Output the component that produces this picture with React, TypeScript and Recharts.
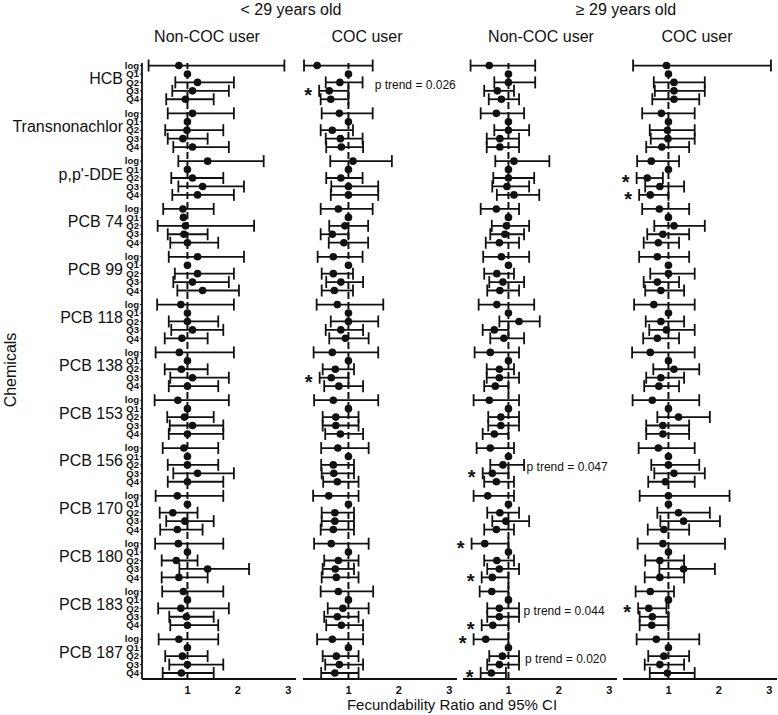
import React from "react";
import {
  ScatterChart,
  Scatter,
  XAxis,
  YAxis,
  ErrorBar,
  ReferenceLine,
} from "recharts";

// chemicals and the 5 rows shown for each one
const chemicals = [
  "HCB",
  "Transnonachlor",
  "p,p'-DDE",
  "PCB 74",
  "PCB 99",
  "PCB 118",
  "PCB 138",
  "PCB 153",
  "PCB 156",
  "PCB 170",
  "PCB 180",
  "PCB 183",
  "PCB 187",
];
const rowLabels = ["log", "Q1", "Q2", "Q3", "Q4"];
const xTicks = [1, 2, 3];

type Triple = [number, number, number]; // [FR, lower, upper]

// < 29 years old, non-COC user
const youngNonCoc: Triple[] = [
  [0.83, 0.23, 2.92], [1, 1, 1], [1.2, 0.76, 1.92], [1.1, 0.7, 1.82], [0.96, 0.58, 1.52],
  [1.1, 0.61, 1.92], [1, 1, 1], [0.99, 0.56, 1.71], [0.91, 0.61, 1.4], [1.1, 0.72, 1.82],
  [1.4, 0.82, 2.51], [1, 1, 1], [1.1, 0.68, 1.71], [1.3, 0.82, 2.12], [1.2, 0.7, 1.92],
  [0.91, 0.52, 1.52], [0.92, 0.92, 0.92], [0.96, 0.41, 2.32], [0.93, 0.61, 1.4], [1.0, 0.66, 1.61],
  [1.2, 0.63, 2.12], [1, 1, 1], [1.2, 0.75, 1.92], [1.1, 0.72, 1.82], [1.3, 0.8, 2.02],
  [0.87, 0.4, 1.92], [1, 1, 1], [1.0, 0.63, 1.61], [1.1, 0.68, 1.71], [0.89, 0.55, 1.4],
  [0.84, 0.37, 1.92], [1, 1, 1], [0.88, 0.55, 1.4], [1.1, 0.66, 1.82], [1.0, 0.63, 1.61],
  [0.81, 0.35, 1.82], [1, 1, 1], [0.94, 0.6, 1.52], [1.1, 0.65, 1.71], [1.0, 0.63, 1.71],
  [0.93, 0.51, 1.61], [1, 1, 1], [1.0, 0.61, 1.61], [1.2, 0.72, 1.92], [1.0, 0.61, 1.71],
  [0.8, 0.37, 1.71], [1, 1, 1], [0.71, 0.45, 1.2], [0.95, 0.58, 1.52], [0.8, 0.46, 1.3],
  [0.82, 0.36, 1.71], [1, 1, 1], [0.78, 0.49, 1.2], [1.4, 0.84, 2.22], [0.83, 0.49, 1.4],
  [0.92, 0.5, 1.71], [1, 1, 1], [0.87, 0.42, 1.82], [0.98, 0.64, 1.52], [1.0, 0.66, 1.61],
  [0.83, 0.43, 1.61], [1, 1, 1], [0.9, 0.56, 1.4], [1.0, 0.64, 1.71], [0.88, 0.51, 1.52],
];

// < 29 years old, COC user
const youngCoc: Triple[] = [
  [0.38, 0.12, 1.48], [1, 1, 1], [0.83, 0.55, 1.28], [0.62, 0.42, 1.0], [0.65, 0.45, 1.0],
  [0.82, 0.47, 1.48], [1, 1, 1], [0.68, 0.45, 1.09], [0.84, 0.55, 1.28], [0.86, 0.56, 1.29],
  [1.09, 0.64, 1.86], [1, 1, 1], [0.85, 0.56, 1.28], [1.0, 0.66, 1.59], [1.0, 0.65, 1.59],
  [0.8, 0.45, 1.48], [1, 1, 1], [0.93, 0.62, 1.39], [0.68, 0.45, 1.0], [0.91, 0.61, 1.39],
  [0.7, 0.39, 1.28], [1, 1, 1], [0.7, 0.47, 1.09], [0.85, 0.56, 1.29], [0.72, 0.47, 1.09],
  [0.78, 0.37, 1.69], [1, 1, 1], [1.0, 0.65, 1.59], [0.85, 0.55, 1.29], [0.94, 0.62, 1.4],
  [0.68, 0.31, 1.59], [1, 1, 1], [0.74, 0.49, 1.11], [0.66, 0.43, 1.0], [0.81, 0.52, 1.29],
  [0.7, 0.32, 1.59], [1, 1, 1], [0.75, 0.49, 1.2], [0.75, 0.49, 1.2], [0.84, 0.54, 1.29],
  [0.79, 0.46, 1.4], [1, 1, 1], [0.7, 0.46, 1.11], [0.71, 0.47, 1.11], [0.78, 0.5, 1.2],
  [0.61, 0.3, 1.2], [1, 1, 1], [0.73, 0.47, 1.11], [0.73, 0.47, 1.11], [0.7, 0.45, 1.11],
  [0.66, 0.32, 1.4], [1, 1, 1], [0.8, 0.52, 1.2], [0.74, 0.49, 1.11], [0.76, 0.47, 1.2],
  [0.8, 0.45, 1.49], [1, 1, 1], [0.89, 0.59, 1.4], [0.78, 0.52, 1.2], [0.86, 0.56, 1.29],
  [0.68, 0.38, 1.29], [1, 1, 1], [0.76, 0.49, 1.2], [0.82, 0.54, 1.29], [0.73, 0.46, 1.2],
];

// >= 29 years old, non-COC user
const oldNonCoc: Triple[] = [
  [0.62, 0.25, 1.53], [1, 1, 1], [1.0, 0.72, 1.53], [0.78, 0.52, 1.11], [0.86, 0.61, 1.21],
  [0.76, 0.45, 1.31], [1, 1, 1], [1.0, 0.72, 1.41], [0.83, 0.57, 1.21], [0.83, 0.57, 1.21],
  [1.11, 0.74, 1.81], [1, 1, 1], [1.0, 0.7, 1.51], [0.97, 0.68, 1.41], [1.11, 0.77, 1.61],
  [0.76, 0.45, 1.21], [1, 1, 1], [0.96, 0.67, 1.41], [0.93, 0.64, 1.31], [0.82, 0.55, 1.21],
  [0.86, 0.5, 1.41], [1, 1, 1], [0.77, 0.52, 1.11], [0.89, 0.62, 1.31], [0.83, 0.58, 1.21],
  [0.77, 0.41, 1.51], [1, 1, 1], [1.21, 0.82, 1.62], [0.72, 0.49, 1.0], [0.91, 0.64, 1.31],
  [0.64, 0.33, 1.21], [1, 1, 1], [0.82, 0.57, 1.11], [0.82, 0.57, 1.21], [0.74, 0.52, 1.0],
  [0.62, 0.31, 1.21], [1, 1, 1], [0.85, 0.6, 1.21], [0.85, 0.6, 1.21], [0.72, 0.49, 1.0],
  [0.64, 0.37, 1.11], [1, 1, 1], [0.89, 0.64, 1.31], [0.68, 0.49, 1.0], [0.76, 0.52, 1.11],
  [0.59, 0.31, 1.11], [1, 1, 1], [0.83, 0.58, 1.21], [0.95, 0.68, 1.41], [0.76, 0.52, 1.11],
  [0.53, 0.27, 1.0], [1, 1, 1], [0.77, 0.52, 1.11], [0.82, 0.58, 1.21], [0.68, 0.47, 1.0],
  [0.67, 0.43, 1.0], [1, 1, 1], [0.82, 0.58, 1.21], [0.82, 0.58, 1.21], [0.69, 0.47, 1.0],
  [0.55, 0.31, 1.0], [1, 1, 1], [0.88, 0.62, 1.21], [0.82, 0.58, 1.21], [0.66, 0.45, 0.95],
];

// >= 29 years old, COC user
const oldCoc: Triple[] = [
  [0.96, 0.3, 3.03], [1, 1, 1], [1.11, 0.71, 1.72], [1.11, 0.73, 1.72], [1.11, 0.68, 1.61],
  [0.86, 0.48, 1.52], [1, 1, 1], [0.98, 0.63, 1.52], [0.99, 0.65, 1.52], [0.87, 0.56, 1.41],
  [0.66, 0.38, 1.21], [1, 1, 1], [0.58, 0.37, 0.89], [0.83, 0.54, 1.31], [0.64, 0.42, 1.0],
  [0.82, 0.48, 1.41], [1, 1, 1], [1.11, 0.72, 1.72], [0.89, 0.58, 1.41], [0.8, 0.51, 1.21],
  [0.78, 0.42, 1.41], [1, 1, 1], [1.0, 0.64, 1.52], [0.78, 0.51, 1.21], [0.85, 0.54, 1.31],
  [0.71, 0.32, 1.52], [1, 1, 1], [0.85, 0.55, 1.31], [0.96, 0.62, 1.52], [0.78, 0.5, 1.21],
  [0.64, 0.28, 1.52], [1, 1, 1], [1.11, 0.7, 1.61], [0.85, 0.56, 1.31], [0.81, 0.52, 1.21],
  [0.68, 0.29, 1.61], [1, 1, 1], [1.2, 0.78, 1.82], [0.89, 0.56, 1.41], [0.89, 0.56, 1.41],
  [0.8, 0.41, 1.52], [1, 1, 1], [1.0, 0.66, 1.61], [1.11, 0.72, 1.72], [0.94, 0.6, 1.52],
  [1.0, 0.43, 2.21], [1, 1, 1], [1.2, 0.78, 1.82], [1.3, 0.84, 2.02], [0.91, 0.59, 1.41],
  [0.89, 0.39, 2.12], [1, 1, 1], [0.83, 0.54, 1.31], [1.3, 0.82, 1.92], [0.83, 0.53, 1.31],
  [0.64, 0.35, 1.11], [1, 1, 1], [0.61, 0.4, 0.96], [0.68, 0.43, 1.0], [0.67, 0.43, 1.0],
  [0.76, 0.37, 1.61], [1, 1, 1], [0.91, 0.6, 1.41], [0.83, 0.53, 1.31], [0.98, 0.63, 1.52],
];

// significant rows, [chemical index, row index]
const youngNonCocStars: [number, number][] = [];
const youngCocStars: [number, number][] = [[0, 3], [6, 3]];
const oldNonCocStars: [number, number][] = [[8, 3], [10, 0], [10, 4], [11, 4], [12, 0], [12, 4]];
const oldCocStars: [number, number][] = [[2, 2], [2, 4], [11, 2]];

// p trend notes: [chemical index, x where the text starts, text]
const youngCocTrends: [number, number, string][] = [[0, 1.52, "p trend = 0.026"]];
const oldNonCocTrends: [number, number, string][] = [
  [8, 1.36, "p trend = 0.047"],
  [11, 1.3, "p trend = 0.044"],
  [12, 1.33, "p trend = 0.020"],
];

const GROUP_STEP = 5.67;
const yPos = (g: number, r: number) => g * GROUP_STEP + r;
const yTicks = chemicals.flatMap((_, g) => rowLabels.map((_, r) => yPos(g, r)));
const tickInfo = new Map<number, { row: string; chem?: string }>();
chemicals.forEach((c, g) =>
  rowLabels.forEach((l, r) =>
    tickInfo.set(Math.round(yPos(g, r) * 100), { row: l, chem: r === 1 ? c : undefined })
  )
);

const FONT = "'Liberation Sans', Arial, sans-serif";
const INK = "#111";

const toPoints = (rows: Triple[]) =>
  rows.map(([fr, lo, hi], i) => ({
    x: fr,
    y: yPos(Math.floor(i / 5), i % 5),
    err: hi > lo ? [fr - lo, hi - fr] : null,
  }));

const starPoints = (stars: [number, number][], rows: Triple[]) =>
  stars.map(([g, r]) => ({ x: rows[g * 5 + r][1], y: yPos(g, r) }));

const trendPoints = (trends: [number, number, string][]) =>
  trends.map(([g, x, label]) => ({ x, y: yPos(g, 2), label }));

const Dot = (p: any) => <circle cx={p.cx} cy={p.cy} r={3.8} fill={INK} />;

const Star = (p: any) => (
  <text x={p.cx - 11} y={p.cy + 11} textAnchor="middle" fontSize={20} fontWeight="bold" fontFamily={FONT} fill={INK}>
    *
  </text>
);

const Trend = (p: any) => (
  <text x={p.cx} y={p.cy + 6.5} fontSize={12} fontFamily={FONT} fill={INK}>
    {p.payload.label}
  </text>
);

const RowTick = (p: any) => {
  const info = tickInfo.get(Math.round(p.payload.value * 100));
  if (!info) return null;
  return (
    <g>
      <text
        x={p.x}
        y={p.y + 3.2}
        textAnchor="end"
        fontSize={9.5}
        fontWeight="bold"
        fontFamily="'Liberation Sans Narrow', 'Liberation Sans', Arial, sans-serif"
        fill={INK}
      >
        {info.row}
      </text>
      {info.chem && (
        <text x={123} y={p.y + 10} textAnchor="end" fontSize={16} fontFamily={FONT} fill={INK}>
          {info.chem}
        </text>
      )}
    </g>
  );
};

type PanelProps = {
  rows: Triple[];
  stars: [number, number][];
  trends: [number, number, string][];
  left: number;
  width: number;
  showY?: boolean;
  marginLeft: number;
  marginRight: number;
};

const Panel = ({ rows, stars, trends, left, width, showY, marginLeft, marginRight }: PanelProps) => (
  <div style={{ position: "absolute", left, top: 0 }}>
    <ScatterChart
      width={width}
      height={715}
      margin={{ top: 63, right: marginRight, bottom: 6, left: marginLeft }}
    >
      <XAxis
        type="number"
        dataKey="x"
        domain={[0.1, 3.15]}
        ticks={xTicks}
        interval={0}
        height={30}
        tickLine={false}
        tickSize={4}
        tickMargin={3}
        axisLine={{ stroke: INK, strokeWidth: 1.8 }}
        tick={{ fontSize: 11, fontWeight: "bold", fill: INK, fontFamily: FONT }}
      />
      <YAxis
        type="number"
        dataKey="y"
        domain={[-0.3, 72.75]}
        reversed
        hide={!showY}
        width={142}
        ticks={yTicks}
        interval={0}
        tickSize={2}
        tickMargin={1}
        tickLine={{ stroke: INK }}
        axisLine={{ stroke: INK, strokeWidth: 1.8 }}
        tick={(p: any) => <RowTick {...p} />}
      />
      <ReferenceLine x={1} stroke={INK} strokeWidth={2} strokeDasharray="7 3" />
      <Scatter data={toPoints(rows)} shape={Dot} isAnimationActive={false}>
        <ErrorBar
          dataKey="err"
          direction="x"
          width={6}
          stroke={INK}
          strokeWidth={1.8}
          isAnimationActive={false}
        />
      </Scatter>
      <Scatter data={starPoints(stars, rows)} shape={Star} isAnimationActive={false} />
      <Scatter data={trendPoints(trends)} shape={Trend} isAnimationActive={false} />
    </ScatterChart>
  </div>
);

export default function App() {
  return (
    <div
      style={{
        position: "absolute",
        left: 0,
        top: 0,
        width: 778,
        height: 715,
        overflow: "hidden",
        background: "#fff",
        fontFamily: FONT,
      }}
    >
      <Panel rows={youngNonCoc} stars={youngNonCocStars} trends={[]} left={0} width={299} showY marginLeft={0} marginRight={3} />
      <Panel rows={youngCoc} stars={youngCocStars} trends={youngCocTrends} left={291} width={169} marginLeft={12} marginRight={3} />
      <Panel rows={oldNonCoc} stars={oldNonCocStars} trends={oldNonCocTrends} left={451} width={169} marginLeft={12} marginRight={3} />
      <Panel rows={oldCoc} stars={oldCocStars} trends={[]} left={611} width={166} marginLeft={12} marginRight={0} />
      <svg
        width={778}
        height={715}
        style={{ position: "absolute", left: 0, top: 0, pointerEvents: "none" }}
        fontFamily={FONT}
        fill={INK}
      >
        <text x={291} y={15} textAnchor="middle" fontSize={16}>
          &lt; 29 years old
        </text>
        <text x={626} y={15} textAnchor="middle" fontSize={16}>
          ≥ 29 years old
        </text>
        <text x={207} y={41.5} textAnchor="middle" fontSize={16}>Non-COC user</text>
        <text x={367} y={41.5} textAnchor="middle" fontSize={16}>COC user</text>
        <text x={541} y={41.5} textAnchor="middle" fontSize={16}>Non-COC user</text>
        <text x={697} y={41.5} textAnchor="middle" fontSize={16}>COC user</text>
        <text x={16} y={370} textAnchor="middle" fontSize={16} transform="rotate(-90 16 370)">
          Chemicals
        </text>
        <text x={452} y={710} textAnchor="middle" fontSize={15}>
          Fecundability Ratio and 95% CI
        </text>
      </svg>
    </div>
  );
}
